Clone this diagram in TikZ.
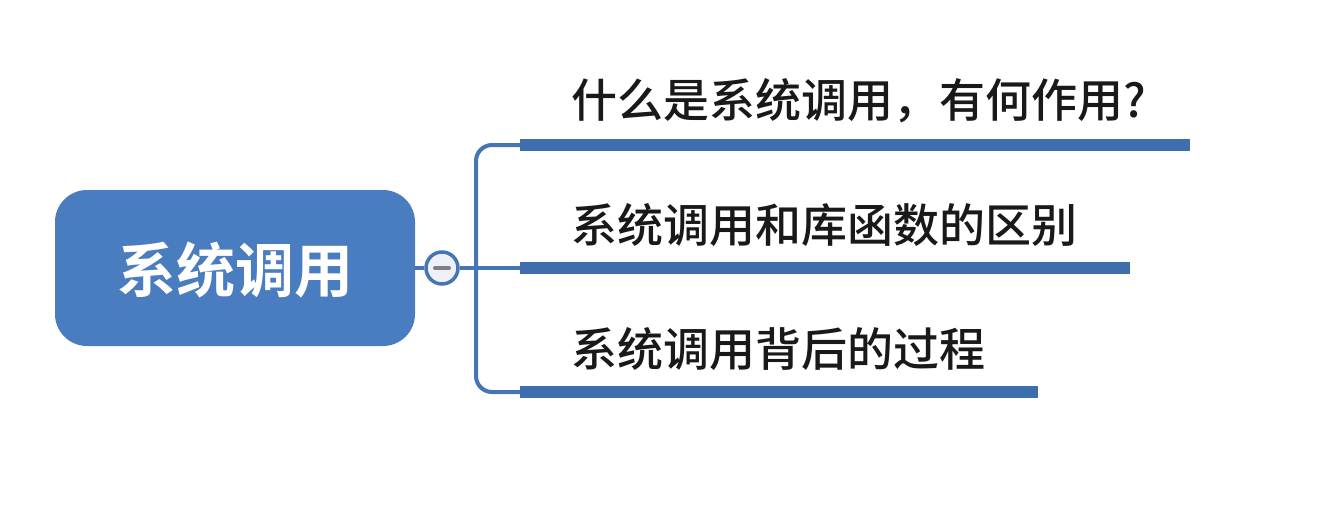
\documentclass[tikz,border=0pt]{standalone}
\usepackage{fontspec}
\newfontfamily\cjk{Noto Sans CJK SC}[UprightFont={* Medium}]
\newfontfamily\cjkb{Noto Sans CJK SC}[BoldFont={* Bold}]
\definecolor{boxblue}{HTML}{4A7CC0}
\definecolor{lineblue}{HTML}{4675B6}
\definecolor{barblue}{HTML}{3F6EAF}
\definecolor{circfill}{HTML}{EEF0F5}
\definecolor{minusgray}{HTML}{7A7F8C}
\tikzset{
  rootbox/.style={draw=none, fill=boxblue, rounded corners=32pt, minimum width=360pt, minimum height=156pt, inner sep=0pt},
  collapse/.style={circle, draw=lineblue, line width=3.5pt, fill=circfill, minimum size=32pt, inner sep=0pt},
  bar/.style={fill=barblue, draw=none, minimum height=12pt, inner sep=0pt, anchor=west},
  link/.style={draw=lineblue, line width=4pt},
  topic/.style={anchor=west, inner sep=0pt, font=\cjk\fontsize{46}{50}\selectfont, text=black!90},
}
\begin{document}
\begin{tikzpicture}[x=1pt,y=-1pt]
\useasboundingbox[fill=white] (0,0) rectangle (1319,522);
\node[rootbox] (root) at (235,268) {};
\node[text=white, font=\cjkb\bfseries\fontsize{59}{64}\selectfont] (roottext) at (235,270) {系统调用};
\node[collapse] (c) at (442,268) {};
\draw[minusgray, line width=4pt, line cap=round] ([xshift=-7pt]c.center) -- ([xshift=7pt]c.center);
\coordinate (j) at (476,268);
\node[bar, minimum width=670pt] (b1) at (520,145) {};
\node[bar, minimum width=610pt] (b2) at (520,268) {};
\node[bar, minimum width=518pt] (b3) at (520,392) {};
\node[topic] (t1) at (571,101) {什么是系统调用，有何作用?};
\node[topic] (t2) at (571,225) {系统调用和库函数的区别};
\node[topic] (t3) at (571,349) {系统调用背后的过程};
\draw[link] (root.east) -- (c.west);
\draw[link] (c.east) -- (b2.west);
\draw[link, rounded corners=16pt] (b1.west) -| (j) |- (b3.west);
\end{tikzpicture}
\end{document}
